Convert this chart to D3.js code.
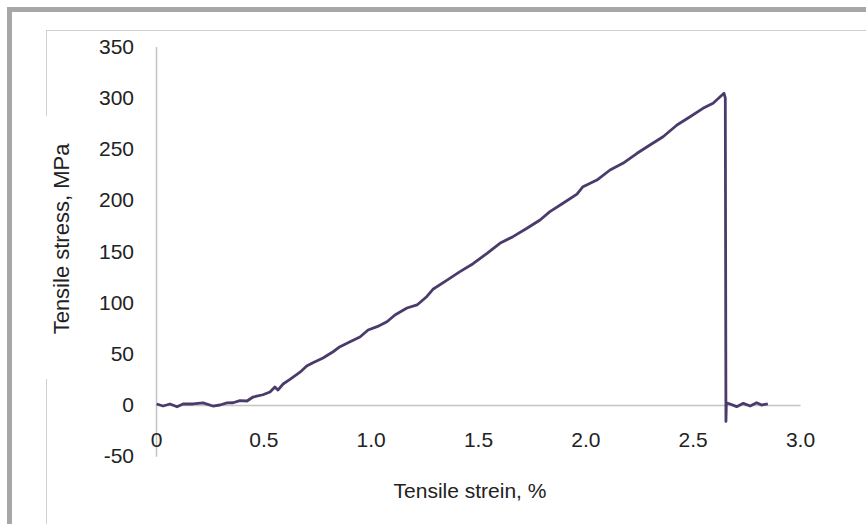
<!DOCTYPE html>
<html>
<head>
<meta charset="utf-8">
<script src="https://cdn.jsdelivr.net/npm/d3@7"></script>
<style>
  body { margin: 0; background: #fff; }
  text { font-family: "Liberation Sans", Arial, sans-serif; fill: #222; }
</style>
</head>
<body>
<div id="container"></div>
<script>
var WIDTH = 866,
	HEIGHT = 524;

// strain (%) and stress (MPa)
var strain = [0.003, 0.033, 0.065, 0.098, 0.126, 0.172, 0.219, 0.265, 0.298, 0.331,
	0.359, 0.391, 0.424, 0.452, 0.498, 0.531, 0.554, 0.568, 0.592, 0.624,
	0.671, 0.702, 0.731, 0.778, 0.825, 0.857, 0.904, 0.95, 0.988, 1.03,
	1.076, 1.113, 1.169, 1.216, 1.262, 1.29, 1.356, 1.416, 1.477, 1.542,
	1.602, 1.663, 1.728, 1.789, 1.835, 1.896, 1.961, 1.989, 2.054, 2.115,
	2.175, 2.241, 2.301, 2.362, 2.427, 2.488, 2.548, 2.595, 2.637, 2.646,
	2.652, 2.655, 2.657, 2.674, 2.705, 2.736, 2.768, 2.798, 2.821, 2.85];
var stress = [1, -1, 1, -1.7, 1, 1, 2, -1, 0, 2,
	2.2, 4.2, 3.9, 7.8, 10, 12.7, 17.6, 14.6, 20.5, 25,
	32, 38.1, 41.3, 45.9, 52, 56.9, 61.8, 66.4, 73.2, 76.5,
	81.3, 87.9, 94.7, 97.7, 106, 113, 122, 130.2, 138, 148.1,
	157.9, 164.4, 172.6, 180.7, 188.8, 197, 206, 213.2, 219.7, 229.5,
	236, 245.8, 253.9, 262, 273.4, 281.5, 289.7, 294.6, 302.7, 304.4,
	300, -16, 2, 1, -1.6, 1.6, -1, 2.2, 0, 1];

var xTicks = [0, 0.5, 1.0, 1.5, 2.0, 2.5, 3.0];
var xTickLabels = ["0", "0.5", "1.0", "1.5", "2.0", "2.5", "3.0"];
var yTicks = [-50, 0, 50, 100, 150, 200, 250, 300, 350];
var yTickLabels = ["-50", "0", "50", "100", "150", "200", "250", "300", "350"];

var xScale = d3.scaleLinear().domain([0, 3]).range([156, 800]);
var yScale = d3.scaleLinear().domain([-50, 350]).range([456.2, 46.6]);

var translate = function (x, y) {
	return "translate(" + x + "," + y + ")";
};

function drawFrame(svg) {
	// outer gray frame (top and left)
	svg.append('rect').attr('x', 7).attr('y', 7).attr('width', WIDTH - 7).attr('height', 5).attr('fill', '#a7a7a9');
	svg.append('rect').attr('x', 7).attr('y', 7).attr('width', 5).attr('height', HEIGHT - 7).attr('fill', '#a7a7a9');
	// inner chart box
	svg.append('line').attr('x1', 46).attr('x2', WIDTH).attr('y1', 30.5).attr('y2', 30.5)
		.attr('stroke', '#cfcfcf');
	svg.append('line').attr('x1', 46.5).attr('x2', 46.5).attr('y1', 30).attr('y2', 116)
		.attr('stroke', '#cfcfcf');
	svg.append('line').attr('x1', 46.5).attr('x2', 46.5).attr('y1', 379).attr('y2', HEIGHT)
		.attr('stroke', '#cfcfcf');
}

function drawAxis(svg) {
	var _yAxis = d3.axisLeft(yScale).tickValues(yTicks).tickSize(0).tickSizeOuter(0).tickPadding(22)
		.tickFormat(function (d, i) { return yTickLabels[i]; });
	var gy = svg.append('g')
		.attr('transform', translate(xScale(0), 0))
		.call(_yAxis)
		.classed('yAxis', true);
	var _xAxis = d3.axisBottom(xScale).tickValues(xTicks).tickSize(0).tickSizeOuter(0).tickPadding(27)
		.tickFormat(function (d, i) { return xTickLabels[i]; });
	var gx = svg.append('g')
		.attr('transform', translate(0, yScale(0)))
		.call(_xAxis)
		.classed('xAxis', true);
	[gx, gy].forEach(function (g) {
		g.select('.domain').attr('stroke', '#c4c4c4').attr('stroke-width', 1.5);
		g.selectAll('text').style('font-size', '21px').attr('fill', '#222');
		g.attr('font-family', null);
	});

	svg.append('text')
		.attr('x', 470).attr('y', 498)
		.attr('text-anchor', 'middle')
		.style('font-size', '21px')
		.text('Tensile strein, %');
	svg.append('text')
		.attr('transform', translate(69, 239) + ' rotate(-90)')
		.attr('text-anchor', 'middle')
		.style('font-size', '22px')
		.text('Tensile stress, MPa');
}

function drawChart() {
	var svg = d3.select('#container')
		.append('svg')
		.attr('width', WIDTH)
		.attr('height', HEIGHT);
	drawFrame(svg);
	drawAxis(svg);
	var line = d3.line()
		.x(function (d, i) { return xScale(strain[i]); })
		.y(function (d, i) { return yScale(stress[i]); });
	svg.append('path')
		.attr('d', line(strain))
		.attr('stroke', '#4b3b6b')
		.attr('stroke-width', 2.8)
		.attr('stroke-linejoin', 'round')
		.attr('fill', 'none');
}

window.onload = drawChart;
</script>
</body>
</html>
